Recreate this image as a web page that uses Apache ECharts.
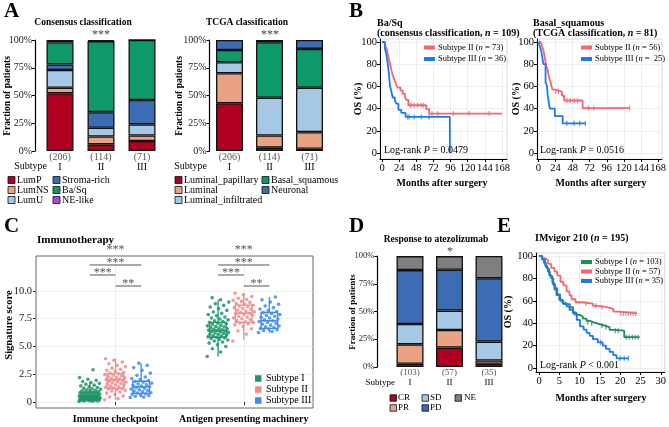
<!DOCTYPE html>
<html><head><meta charset="utf-8">
<script src="https://cdn.jsdelivr.net/npm/echarts@6/dist/echarts.min.js"></script>
<style>html,body{margin:0;padding:0;background:#fff}#c{width:669px;height:427px}</style>
</head><body><div id="c"></div>
<script>
const F = '"Liberation Serif", "DejaVu Serif", serif';
// ---------- Panel A ----------
const subtypes = ['I', 'II', 'III'];
const consCounts = ['(206)', '(114)', '(71)'];
const consNames = ['LumP', 'LumNS', 'LumU', 'Stroma-rich', 'Ba/Sq', 'NE-like'];
const consLumP = [52, 6, 9];
const consLumNS = [5, 7, 5];
const consLumU = [16, 8, 10];
const consStroma = [5, 14, 22];
const consBaSq = [20, 64, 54];
const consNElike = [2, 1, 0];
const tcgaNames = ['Luminal_papillary', 'Luminal', 'Luminal_infiltrated', 'Basal_squamous', 'Neuronal'];
const tcgaLP = [43, 3, 2];
const tcgaLum = [27, 11, 15];
const tcgaLI = [10, 34, 40];
const tcgaBS = [11, 50, 35];
const tcgaNeu = [9, 2, 8];
const pctTicks = [0, 25, 50, 75, 100];
// ---------- Panel D ----------
const respCounts = ['(103)', '(57)', '(35)'];
const respNames = ['CR', 'PR', 'SD', 'PD', 'NE'];
const respCR = [2.9, 17.5, 2.9];
const respPR = [17.5, 15.8, 2.9];
const respSD = [18.4, 17.5, 17.1];
const respPD = [48.5, 36.8, 57.1];
const respNE = [12.6, 12.3, 20.0];
// ---------- Panel B (KM) ----------
const monthTicksB = [0, 24, 48, 72, 96, 120, 144, 168];
const osTicks = [0, 20, 40, 60, 80, 100];
const baSqII = [[0,100],[3,98.6],[5,95.9],[7,93.2],[8,89],[9,86.3],[10,83.6],[11,80.8],[12,78],[13,75.3],[14,72.6],[15,69.9],[17,67.1],[18,64.4],[20,61.6],[22,58.9],[26,56.2],[29,53.4],[32,50.7],[34,47.9],[37,43],[62,39.6],[66,35.5],[168,35.5]];
const baSqIICens = [[40,43],[45,43],[50,43],[55,43],[58,43],[70,35.5],[78,35.5],[100,35.5],[122,35.5],[150,35.5]];
const baSqIII = [[0,100],[4,94.4],[6,88.9],[8,80.6],[9,75],[10,69.4],[11,61.1],[13,55.6],[15,50],[18,47.2],[20,44.4],[23,38.9],[27,36.1],[33,32.5],[95,32.5],[95,0]];
const baSqIIICens = [[36,32.5],[38,32.5],[45,32.5],[55,32.5],[66,32.5]];
const bsqII = [[0,100],[3,98.2],[5,96.4],[7,92.9],[8,89.3],[9,85.7],[10,82.1],[11,78.6],[13,75],[14,71.4],[15,67.9],[17,64.3],[18,60.7],[20,57.1],[23,55.4],[33,51.8],[36,47.3],[62,40.5],[128,40.5]];
const bsqIICens = [[24,55.4],[28,55.4],[40,47.3],[45,47.3],[50,47.3],[55,47.3],[70,40.5],[78,40.5],[128,40.5]];
const bsqIII = [[0,100],[2,96],[4,92],[5,88],[6,84],[7,80],[10,64],[12,60],[13,52],[14,48],[15,44],[16,40],[23,33.3],[34,26.7],[66,26.7]];
const bsqIIICens = [[40,26.7],[50,26.7],[58,26.7],[66,26.7]];
// ---------- Panel E (KM) ----------
const monthTicksE = [0, 5, 10, 15, 20, 25, 30];
const imI = [[0,100],[0.7,97],[1.2,94],[1.7,90],[2.2,86],[2.7,82],[3.3,76],[3.8,70],[4.3,65],[5,61],[5.8,58],[6.8,55],[7.5,52],[8.4,49.5],[9.2,47.5],[10,46],[10.8,44],[11.7,42],[12.5,41],[13.3,40],[14.2,39],[15,38],[16,36.5],[17.4,34],[18.5,33.3],[21,27.5],[24.8,27.5]];
const imICens = [[12,41],[13,40],[15.5,38],[16.5,36.5],[18.8,33.3],[19.5,33.3],[21.5,27.5],[22.2,27.5],[23,27.5],[23.7,27.5],[24.4,27.5]];
const imII = [[0,100],[0.8,98],[1.5,96.5],[2.2,93],[3,89.5],[3.8,86],[4.5,82.5],[5.3,77],[6,73.7],[6.8,68.4],[7.5,64.9],[8,61.4],[9,58.7],[10.5,57.5],[13.3,55.5],[14.5,54.3],[16.6,52.8],[18.3,50.4],[19.6,48.7],[24.2,48.7]];
const imIICens = [[11.5,57.5],[14,55.5],[15.5,54.3],[20.2,48.7],[20.8,48.7],[21.4,48.7],[22,48.7],[22.6,48.7],[23.2,48.7],[23.8,48.7]];
const imIII = [[0,100],[0.8,97],[1.5,91.4],[2,88.6],[2.5,82.9],[3,80],[3.5,74.3],[4,71.4],[4.5,65.7],[5.2,60],[6,57.1],[7.6,54.3],[8.4,48.6],[9.3,42.9],[10.1,37.1],[11,34.3],[11.7,31.4],[12.5,28.6],[13.3,25.7],[14.5,22.9],[15.7,20],[16.5,17.1],[17.4,14.3],[18.3,11.4],[19.1,8.6],[22,8.6]];
const imIIICens = [[8.8,48.6],[15.2,22.9],[20,8.6],[21,8.6],[22,8.6]];
// ---------- Panel C ----------
const sigCats = ['Immune checkpoint', 'Antigen presenting machinery'];
const sigTicks = [0, 2.5, 5, 7.5, 10];
const icI = [0.05,0.07,0.09,0.1,0.12,0.13,0.15,0.16,0.18,0.19,0.2,0.22,0.23,0.25,0.26,0.27,0.29,0.3,0.31,0.33,0.34,0.36,0.37,0.39,0.4,0.42,0.43,0.45,0.46,0.47,0.49,0.5,0.52,0.54,0.55,0.57,0.59,0.61,0.63,0.65,0.67,0.7,0.72,0.75,0.78,0.8,0.83,0.86,0.88,0.91,0.95,0.98,1.02,1.06,1.1,1.15,1.2,1.25,1.31,1.38,1.45,1.52,1.6,1.68,1.75,1.85,1.95,2.05,2.2,2.9];
const icII = [0.2,0.3,0.45,0.55,0.68,0.8,0.9,0.98,1.05,1.12,1.18,1.22,1.27,1.33,1.38,1.43,1.5,1.55,1.61,1.67,1.72,1.78,1.83,1.88,1.93,1.98,2.02,2.07,2.12,2.18,2.23,2.29,2.35,2.41,2.48,2.54,2.6,2.68,2.76,2.85,2.95,3.05,3.18,3.3,3.45,3.6,3.75,3.9];
const icIII = [0.4,0.45,0.52,0.58,0.64,0.7,0.75,0.8,0.86,0.92,0.98,1.04,1.1,1.17,1.23,1.3,1.37,1.43,1.5,1.56,1.63,1.7,1.78,1.85,1.93,2.02,2.12,2.25,2.4,2.6,2.85,3.1,3.3,3.5];
const apI = [4.1,4.5,4.8,5.0,5.15,5.3,5.4,5.5,5.58,5.65,5.72,5.78,5.83,5.88,5.93,5.98,6.03,6.08,6.13,6.18,6.22,6.27,6.31,6.35,6.39,6.43,6.47,6.51,6.56,6.6,6.65,6.7,6.75,6.8,6.86,6.92,6.98,7.04,7.1,7.17,7.24,7.32,7.4,7.48,7.57,7.66,7.76,7.87,7.98,8.1,8.25,8.4,8.55,8.7,8.85,9.0,9.2,9.4];
const apII = [5.5,6.1,6.4,6.6,6.8,6.95,7.05,7.12,7.17,7.25,7.33,7.42,7.5,7.58,7.66,7.73,7.8,7.87,7.94,8.0,8.06,8.13,8.2,8.27,8.35,8.43,8.5,8.58,8.65,8.72,8.8,8.88,8.97,9.06,9.15,9.25,9.35,9.5,9.65,9.8];
const apIII = [6.25,6.35,6.45,6.52,6.58,6.63,6.7,6.78,6.85,6.92,7.0,7.08,7.16,7.24,7.32,7.4,7.48,7.56,7.64,7.72,7.8,7.88,7.97,8.06,8.15,8.25,8.37,8.5,8.65,8.8,9.0,9.2,9.46];
// box stats: lower whisker, Q1, median, Q3, upper whisker
const boxIcI = [0.05, 0.25, 0.47, 0.87, 1.8];
const boxIcII = [0.2, 1.22, 2.0, 2.56, 3.9];
const boxIcIII = [0.4, 0.78, 1.37, 1.87, 3.5];
const boxApI = [4.1, 5.83, 6.43, 7.17, 9.2];
const boxApII = [5.6, 7.17, 8.0, 8.72, 9.8];
const boxApIII = [6.25, 6.63, 7.32, 8.06, 9.46];
const sigLabels = ['***', '***', '***', '**', '***', '***', '***', '**'];

// ---------- style ----------
const C = { lump:'#B0001F', lumns:'#E9A282', lumu:'#A5C8E4', stroma:'#3C6DB4', basq:'#0E9A68', nel:'#A54BD8', ne:'#7F7F7F' };
const KR = '#F6666C', KB = '#1E78F0', KG = '#1E8C5C';
const SG = '#1F9468', SR = '#F28B8C', SB = '#3C8DF2';

function barS(name, data, color, gi) {
  return { type:'bar', name, data, stack:'s'+gi, xAxisIndex:gi, yAxisIndex:gi, barWidth:27, silent:true,
    itemStyle:{ color, borderColor:'#111', borderWidth:1.3 } };
}
function barX(gi, counts, fs) {
  return { type:'category', gridIndex:gi, data:subtypes, axisLine:{show:false}, axisTick:{show:false},
    axisLabel:{ margin:1, interval:0, hideOverlap:false, formatter:(v,i)=>`{c|${counts[i]}}\n{s|${v}}`,
      rich:{ c:{color:'#555', fontSize:fs, fontFamily:F, lineHeight:10}, s:{color:'#000', fontSize:fs, fontFamily:F, lineHeight:10} } } };
}
function barY(gi, off, fs) {
  return { type:'value', gridIndex:gi, min:0, max:100, interval:25, offset:off,
    axisLine:{show:true, onZero:false, lineStyle:{color:'#000', width:1.2}},
    axisTick:{show:true, length:3, lineStyle:{color:'#000'}},
    axisLabel:{formatter:'{value}%', fontFamily:F, fontSize:fs, color:'#222', margin:3}, splitLine:{show:false} };
}
function kmX(gi, min, max, ticks) {
  return { type:'value', gridIndex:gi, min, max,
    axisLine:{show:true, onZero:false, lineStyle:{color:'#000', width:1}},
    axisTick:{show:true, customValues:ticks, length:3, lineStyle:{color:'#000'}},
    axisLabel:{customValues:ticks, fontFamily:F, fontSize:10.5, color:'#000', margin:4},
    splitLine:{show:true, lineStyle:{color:'#ebebeb', width:0.8}} };
}
function kmY(gi, min, max) {
  return { type:'value', gridIndex:gi, min, max,
    axisLine:{show:true, onZero:false, lineStyle:{color:'#000', width:1}},
    axisTick:{show:true, customValues:osTicks, length:3, lineStyle:{color:'#000'}},
    axisLabel:{customValues:osTicks, fontFamily:F, fontSize:10.5, color:'#000', margin:3},
    splitLine:{show:true, lineStyle:{color:'#ebebeb', width:0.8}} };
}
function kmLine(gi, data, color) {
  return { type:'line', step:'end', data, xAxisIndex:gi, yAxisIndex:gi, showSymbol:false, silent:true,
    lineStyle:{color, width:1.8}, z:3 };
}
function kmCens(gi, data, color) {
  return { type:'scatter', data, xAxisIndex:gi, yAxisIndex:gi, symbol:'rect', symbolSize:[1.2,5], silent:true,
    itemStyle:{color}, z:4 };
}
function jitter(vals, pos) {
  return vals.map((v, i) => [pos + (((i * 0.6180339887) % 1) - 0.5) * 0.17, v]);
}
function pts(vals, pos, color) {
  return { type:'scatter', data:jitter(vals, pos), xAxisIndex:4, yAxisIndex:4, symbolSize:3.6, silent:true,
    itemStyle:{color, opacity:0.85}, z:4 };
}
const boxColors = [SG, SR, SB, SG, SR, SB];
const boxPos = [0.8, 1.0, 1.2, 1.8, 2.0, 2.2];
const boxData = [boxIcI, boxIcII, boxIcIII, boxApI, boxApII, boxApIII].map((b, i) => [boxPos[i], ...b]);
function renderBox(params, api) {
  const x = api.value(0);
  const hw = api.size([0.065, 0])[0];
  const lo = api.coord([x, api.value(1)]), q1 = api.coord([x, api.value(2)]), md = api.coord([x, api.value(3)]);
  const q3 = api.coord([x, api.value(4)]), hi = api.coord([x, api.value(5)]);
  const c = boxColors[params.dataIndex];
  const st = { stroke:c, lineWidth:1.3 };
  return { type:'group', children:[
    { type:'line', shape:{x1:lo[0], y1:lo[1], x2:q1[0], y2:q1[1]}, style:st },
    { type:'line', shape:{x1:q3[0], y1:q3[1], x2:hi[0], y2:hi[1]}, style:st },
    { type:'rect', shape:{x:q1[0]-hw, y:q3[1], width:2*hw, height:q1[1]-q3[1]}, style:{stroke:c, lineWidth:1.3, fill:'rgba(255,255,255,0.25)'} },
    { type:'line', shape:{x1:md[0]-hw, y1:md[1], x2:md[0]+hw, y2:md[1]}, style:{stroke:c, lineWidth:1.6} }
  ]};
}
// bracket: [x1, x2, y]
const brackets = [[0.8,1.0,11.44],[0.8,1.2,12.34],[1.0,1.0,13.5],[1.0,1.2,10.45],[1.8,2.0,11.44],[1.8,2.2,12.34],[2.0,2.0,13.5],[2.0,2.2,10.45]];
function renderBracket(params, api) {
  const p1 = api.coord([api.value(0), api.value(2)]), p2 = api.coord([api.value(1), api.value(2)]);
  const ch = [];
  if (p2[0] - p1[0] > 1) ch.push({ type:'line', shape:{x1:p1[0], y1:p1[1], x2:p2[0], y2:p2[1]}, style:{stroke:'#555', lineWidth:1} });
  ch.push({ type:'text', style:{ text:sigLabels[params.dataIndex], x:(p1[0]+p2[0])/2, y:p1[1]-2.5, align:'center', verticalAlign:'middle', font:'12px '+F, fill:'#555' } });
  return { type:'group', children:ch };
}

// ---------- graphic helpers ----------
function txt(x, y, text, size, o = {}) {
  return { type:'text', x, y, rotation:o.rot || 0, silent:true, z:10,
    style:{ text, font:`${o.italic?'italic ':''}${o.bold?'bold ':''}${size}px ${F}`, fill:o.color || '#000',
      align:o.align || 'left', verticalAlign:'middle', rich:o.rich } };
}
function sq(x, y, color, s = 7, border = true) {
  return { type:'rect', silent:true, z:10, shape:{x, y:y - s/2, width:s, height:s},
    style:{ fill:color, stroke:border ? '#111' : null, lineWidth:border ? 0.8 : 0 } };
}
function lineIcon(x, y, color) {
  return { type:'rect', silent:true, z:10, shape:{x, y:y - 2, width:11, height:4}, style:{fill:color} };
}
const ri = (s, b) => ({ i:{ fontStyle:'italic', fontWeight:b ? 'bold' : 'normal', fontSize:s, fontFamily:F, fill:'#000' } });

const graphic = [
  txt(4, 12, 'A', 21, {bold:true}), txt(349, 12, 'B', 21, {bold:true}),
  txt(4, 227, 'C', 21, {bold:true}), txt(349, 227, 'D', 21, {bold:true}), txt(497, 227, 'E', 21, {bold:true}),
  // A
  txt(83, 23, 'Consensus classification', 9.5, {bold:true, align:'center'}),
  txt(247, 23, 'TCGA classification', 9.5, {bold:true, align:'center'}),
  txt(8, 96, 'Fraction of patients', 9.5, {bold:true, align:'center', rot:Math.PI/2}),
  txt(180, 96, 'Fraction of patients', 9.5, {bold:true, align:'center', rot:Math.PI/2}),
  txt(101, 35, '***', 12, {align:'center', color:'#444'}),
  txt(270, 35, '***', 12, {align:'center', color:'#444'}),
  txt(47, 166, 'Subtype', 10, {align:'right'}),
  txt(207, 166, 'Subtype', 10, {align:'right'}),
  sq(8, 180, C.lump), txt(17, 180, consNames[0], 10),
  sq(8, 190, C.lumns), txt(17, 190, consNames[1], 10),
  sq(8, 200, C.lumu), txt(17, 200, consNames[2], 10),
  sq(53, 180, C.stroma), txt(62, 180, consNames[3], 10),
  sq(53, 190, C.basq), txt(62, 190, consNames[4], 10),
  sq(53, 200, C.nel), txt(62, 200, consNames[5], 10),
  sq(175, 180, C.lump), txt(184, 180, tcgaNames[0], 10),
  sq(175, 190, C.lumns), txt(184, 190, tcgaNames[1], 10),
  sq(175, 200, C.lumu), txt(184, 200, tcgaNames[2], 10),
  sq(262, 180, C.basq), txt(271, 180, tcgaNames[3], 10),
  sq(262, 190, C.stroma), txt(271, 190, tcgaNames[4], 10),
  // B
  txt(377, 23, 'Ba/Sq', 10, {bold:true}),
  txt(377, 33, '(consensus classification, {i|n} = 109)', 10, {bold:true, rich:ri(10, true)}),
  txt(533, 23, 'Basal_squamous', 10, {bold:true}),
  txt(533, 33, '(TCGA classification, {i|n} = 81)', 10, {bold:true, rich:ri(10, true)}),
  txt(358, 99, 'OS (%)', 10, {bold:true, align:'center', rot:Math.PI/2}),
  txt(516, 99, 'OS (%)', 10, {bold:true, align:'center', rot:Math.PI/2}),
  txt(442, 183, 'Months after surgery', 10, {bold:true, align:'center'}),
  txt(601, 183, 'Months after surgery', 10, {bold:true, align:'center'}),
  lineIcon(424, 47.5, KR), txt(438, 47.5, 'Subtype II ({i|n} = 73)', 8.5, {rich:ri(8.5)}),
  lineIcon(424, 59, KB), txt(438, 59, 'Subtype III ({i|n} = 36)', 8.5, {rich:ri(8.5)}),
  lineIcon(581, 47.5, KR), txt(595, 47.5, 'Subtype II ({i|n} = 56)', 8.5, {rich:ri(8.5)}),
  lineIcon(581, 59, KB), txt(595, 59, 'Subtype III ({i|n} =  25)', 8.5, {rich:ri(8.5)}),
  txt(384, 150, 'Log-rank {i|P} = 0.0479', 10, {rich:ri(10)}),
  txt(540, 150, 'Log-rank {i|P} = 0.0516', 10, {rich:ri(10)}),
  // C
  txt(37, 240, 'Immunotherapy', 11, {bold:true}),
  txt(9, 325, 'Signature score', 10.5, {bold:true, align:'center', rot:Math.PI/2}),
  sq(255, 378.5, SG, 6.5, false), txt(266, 378.5, 'Subtype I', 10),
  sq(255, 389.5, SR, 6.5, false), txt(266, 389.5, 'Subtype II', 10),
  sq(255, 400.5, SB, 6.5, false), txt(266, 400.5, 'Subtype III', 10),
  // D
  txt(436, 240, 'Response to atezolizumab', 9.5, {bold:true, align:'center'}),
  txt(353, 312, 'Fraction of patients', 9, {bold:true, align:'center', rot:Math.PI/2}),
  txt(450, 252, '*', 12, {align:'center', color:'#444'}),
  txt(395, 383, 'Subtype', 9, {align:'right'}),
  sq(390, 398, C.lump, 6.5), txt(398, 398, respNames[0], 9),
  sq(390, 408, C.lumns, 6.5), txt(398, 408, respNames[1], 9),
  sq(422, 398, C.lumu, 6.5), txt(430, 398, respNames[2], 9),
  sq(422, 408, C.stroma, 6.5), txt(430, 408, respNames[3], 9),
  sq(455, 398, C.ne, 6.5), txt(464, 398, respNames[4], 9),
  // E
  txt(535, 238, 'IMvigor 210 ({i|n} = 195)', 10, {bold:true, rich:ri(10, true)}),
  txt(508, 312, 'OS (%)', 10, {bold:true, align:'center', rot:Math.PI/2}),
  txt(601, 398, 'Months after surgery', 10, {bold:true, align:'center'}),
  lineIcon(581, 262, KG), txt(595, 262, 'Subtype I ({i|n} = 103)', 8.5, {rich:ri(8.5)}),
  lineIcon(581, 271.5, KR), txt(595, 271.5, 'Subtype II ({i|n} = 57)', 8.5, {rich:ri(8.5)}),
  lineIcon(581, 281, KB), txt(595, 281, 'Subtype III ({i|n} = 35)', 8.5, {rich:ri(8.5)}),
  txt(540, 365, 'Log-rank {i|P} < 0.001', 10, {rich:ri(10)})
];

const kmGrid = { show:true, borderColor:'#cfcfcf', borderWidth:0.8, backgroundColor:'#fff' };
const option = {
  animation:false,
  textStyle:{ fontFamily:F },
  grid:[
    { left:39.5, top:40, width:123, height:111 },
    { left:209.5, top:40, width:120, height:111 },
    Object.assign({ left:380, top:39, width:127, height:120 }, kmGrid),
    Object.assign({ left:537, top:39, width:130, height:120 }, kmGrid),
    { left:36, top:256, width:277, height:152, show:true, borderColor:'#666', borderWidth:1 },
    { left:390.25, top:256, width:118.5, height:111 },
    Object.assign({ left:536, top:253, width:129, height:119 }, kmGrid)
  ],
  xAxis:[
    barX(0, consCounts, 10), barX(1, consCounts, 10),
    kmX(2, -2.8, 175, monthTicksB), kmX(3, -2, 173.4, monthTicksB),
    { type:'value', gridIndex:4, min:0.38, max:2.54, axisLine:{show:false},
      axisTick:{show:true, customValues:[1,2], length:3, lineStyle:{color:'#333'}},
      axisLabel:{customValues:[1,2], formatter:v => sigCats[Math.round(v)-1], fontFamily:F, fontWeight:'bold', fontSize:10, color:'#000', margin:6},
      splitLine:{show:true, lineStyle:{color:'#ececec', width:0.8}} },
    barX(5, respCounts, 9),
    kmX(6, -0.74, 30.98, monthTicksE)
  ],
  yAxis:[
    barY(0, 4.5, 10), barY(1, 0, 10),
    kmY(2, -5.4, 102.7), kmY(3, -5.4, 102.7),
    { type:'value', gridIndex:4, min:-0.54, max:13.15, axisLine:{show:false},
      axisTick:{show:true, customValues:sigTicks, length:3, lineStyle:{color:'#333'}},
      axisLabel:{customValues:sigTicks, formatter:v => v === 0 ? '0' : v.toFixed(1), fontFamily:F, fontSize:10.5, color:'#222', margin:4},
      splitLine:{show:true, lineStyle:{color:'#ececec', width:0.8}} },
    barY(5, 13, 8.5),
    kmY(6, -3.6, 102.7)
  ],
  series:[
    barS('LumP', consLumP, C.lump, 0), barS('LumNS', consLumNS, C.lumns, 0), barS('LumU', consLumU, C.lumu, 0),
    barS('Stroma-rich', consStroma, C.stroma, 0), barS('Ba/Sq', consBaSq, C.basq, 0), barS('NE-like', consNElike, C.nel, 0),
    barS('Luminal_papillary', tcgaLP, C.lump, 1), barS('Luminal', tcgaLum, C.lumns, 1), barS('Luminal_infiltrated', tcgaLI, C.lumu, 1),
    barS('Basal_squamous', tcgaBS, C.basq, 1), barS('Neuronal', tcgaNeu, C.stroma, 1),
    kmLine(2, baSqII, KR), kmCens(2, baSqIICens, KR), kmLine(2, baSqIII, KB), kmCens(2, baSqIIICens, KB),
    kmLine(3, bsqII, KR), kmCens(3, bsqIICens, KR), kmLine(3, bsqIII, KB), kmCens(3, bsqIIICens, KB),
    { type:'custom', renderItem:renderBox, data:boxData, xAxisIndex:4, yAxisIndex:4, silent:true, z:3 },
    pts(icI, 0.8, SG), pts(icII, 1.0, SR), pts(icIII, 1.2, SB),
    pts(apI, 1.8, SG), pts(apII, 2.0, SR), pts(apIII, 2.2, SB),
    { type:'custom', renderItem:renderBracket, data:brackets, xAxisIndex:4, yAxisIndex:4, silent:true, clip:false, z:5 },
    barS('CR', respCR, C.lump, 5), barS('PR', respPR, C.lumns, 5), barS('SD', respSD, C.lumu, 5),
    barS('PD', respPD, C.stroma, 5), barS('NE', respNE, C.ne, 5),
    kmLine(6, imI, KG), kmCens(6, imICens, KG), kmLine(6, imII, KR), kmCens(6, imIICens, KR),
    kmLine(6, imIII, KB), kmCens(6, imIIICens, KB)
  ],
  graphic
};
const chart = echarts.init(document.getElementById('c'), null, { renderer:'canvas' });
chart.setOption(option);
</script></body></html>
